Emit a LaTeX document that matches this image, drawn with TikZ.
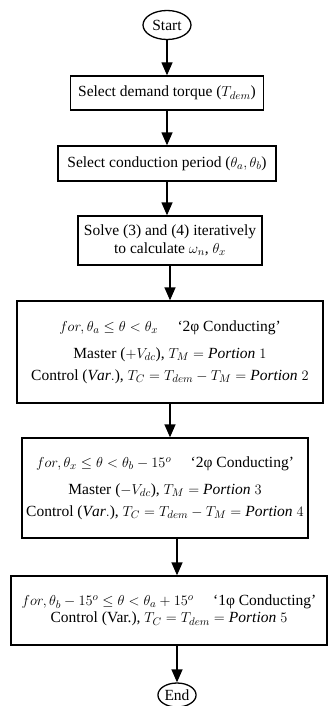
\documentclass[tikz,border=0pt]{standalone}
\usepackage{amsmath,amssymb}
\usepackage{fontspec}
\setmainfont{Liberation Serif}
\usetikzlibrary{arrows.meta,shapes.geometric,positioning}

\begin{document}
\begin{tikzpicture}[x=1pt,y=1pt,
  font=\fontsize{15.5}{18}\selectfont,
  terminal/.style={draw,ellipse,line width=1.3pt,inner sep=1pt},
  stepbox/.style={draw,rectangle,line width=1.3pt,align=center,inner sep=2pt},
  phasebox/.style={stepbox,font=\fontsize{15.5}{22}\selectfont},
  flow/.style={-{Triangle[width=11pt,length=13pt]},line width=1.3pt}]

\path[use as bounding box] (0,0) rectangle (328,-706);
\node[terminal,minimum width=48,minimum height=29] (start) at (167,-25) {Start};
\node[stepbox,minimum width=193,minimum height=34] (dem) at (167,-93)
  {Select demand torque ($T_{dem}$)};
\node[stepbox,minimum width=218,minimum height=35] (period) at (167,-163.5)
  {Select conduction period ($\theta_a,\theta_b$)};
\node[stepbox,minimum width=184,minimum height=49] (solve) at (170,-240.5)
  {Solve (3) and (4) iteratively\\to calculate $\omega_n$, $\theta_x$};
\node[phasebox,minimum width=306,minimum height=102] (twoa) at (170,-352)
  {$for,\theta_a\le\theta<\theta_x$\quad\ ‘2φ Conducting’\\[5pt]
   Master ($+V_{dc}$), $T_M=\mathit{Portion}\;1$\\
   Control ($\mathit{Var.}$), $T_C=T_{dem}-T_M=\mathit{Portion}\;2$};
\node[phasebox,minimum width=286,minimum height=100] (twob) at (165,-488)
  {$for,\theta_x\le\theta<\theta_b-15^o$\quad\ ‘2φ Conducting’\\[5pt]
   Master ($-V_{dc}$), $T_M=\mathit{Portion}\;3$\\
   Control ($\mathit{Var.}$), $T_C=T_{dem}-T_M=\mathit{Portion}\;4$};
\node[stepbox,font=\fontsize{15.5}{17.5}\selectfont,minimum width=316,minimum height=69] (one) at (169,-610.5)
  {$for,\theta_b-15^o\le\theta<\theta_a+15^o$\quad\ ‘1φ Conducting’\\
   Control (Var.), $T_C=T_{dem}=\mathit{Portion}\;5$};
\node[terminal,minimum width=38,minimum height=24] (stop) at (177,-695) {End};
\coordinate (drop) at ([xshift=12pt]twob.south);

\draw[flow] (start) -- (start |- dem.north);
\draw[flow] (dem) -- (dem |- period.north);
\draw[flow] (period) -- (period |- solve.north);
\draw[flow] (solve) -- (solve |- twoa.north);
\draw[flow] (twoa) -- (twoa |- twob.north);
\draw[flow] (drop) -- (drop |- one.north);
\draw[flow] (stop |- one.south) -- (stop);

\end{tikzpicture}
\end{document}
